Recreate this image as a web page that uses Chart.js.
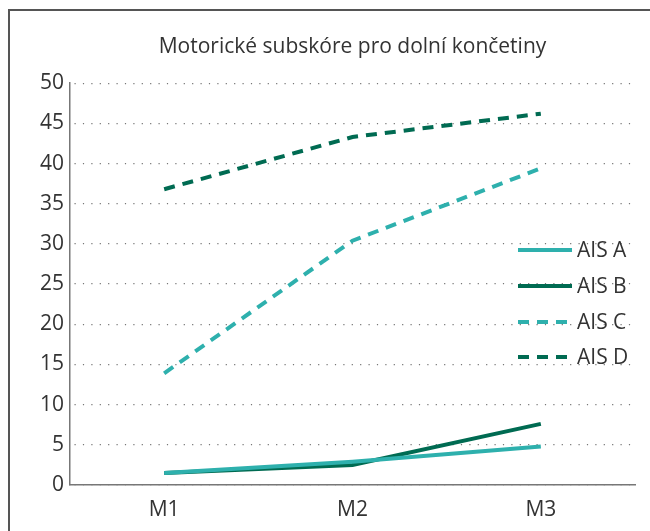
<!DOCTYPE html>
<html>
<head>
<meta charset="utf-8">
<script src="https://cdn.jsdelivr.net/npm/chart.js@4/dist/chart.umd.min.js"></script>
<style>
  html, body { margin: 0; padding: 0; background: #fff; }
  #wrap { position: relative; width: 650px; height: 531px; }
</style>
</head>
<body>
<div id="wrap"><canvas id="c" width="650" height="531"></canvas></div>
<script>
const categories = ['M1', 'M2', 'M3'];
const seriesNames = ['AIS A', 'AIS B', 'AIS C', 'AIS D'];
const aisA = [1.5, 2.9, 4.8];
const aisB = [1.5, 2.5, 7.6];
const aisC = [13.9, 30.4, 39.4];
const aisD = [36.8, 43.3, 46.2];
const yTicks = [0, 5, 10, 15, 20, 25, 30, 35, 40, 45, 50];
const chartTitle = 'Motorické subskóre pro dolní končetiny';

const TEAL = '#2EB0AD';
const GREEN = '#006B52';
const FONT = '"Open Sans", "Noto Sans", sans-serif';

// Outer frame (left and top edges) drawn behind everything
const framePlugin = {
  id: 'frame',
  beforeDraw(chart) {
    const ctx = chart.ctx;
    ctx.save();
    ctx.strokeStyle = '#555';
    ctx.lineWidth = 2;
    ctx.beginPath();
    ctx.moveTo(9, 531);
    ctx.lineTo(9, 10);
    ctx.lineTo(650, 10);
    ctx.stroke();
    ctx.restore();
  }
};

// Legend stacked inside the plot, using each dataset's own line style
const insideLegend = {
  id: 'insideLegend',
  afterDraw(chart) {
    const ctx = chart.ctx;
    const x0 = 518, x1 = 572, tx = 577;
    const rows = [250, 286, 322, 357];
    ctx.save();
    chart.data.datasets.forEach((ds, i) => {
      const y = rows[i];
      ctx.strokeStyle = ds.borderColor;
      ctx.lineWidth = ds.borderWidth;
      ctx.lineCap = 'butt';
      ctx.setLineDash(ds.borderDash || []);
      ctx.beginPath();
      ctx.moveTo(x0, y);
      ctx.lineTo(x1, y);
      ctx.stroke();
      ctx.setLineDash([]);
      ctx.fillStyle = '#333';
      ctx.font = '400 21px ' + FONT;
      ctx.textBaseline = 'middle';
      ctx.textAlign = 'left';
      ctx.fillText(ds.label, tx, y + 1);
    });
    ctx.restore();
  }
};

const makeSet = (label, data, color, dashed) => ({
  label, data,
  borderColor: color,
  backgroundColor: color,
  borderWidth: 4,
  borderDash: dashed ? [11, 8] : [],
  borderCapStyle: 'butt',
  borderJoinStyle: 'miter',
  pointRadius: 0,
  pointHoverRadius: 0,
  tension: 0,
  fill: false
});

new Chart(document.getElementById('c'), {
  type: 'line',
  data: {
    labels: categories,
    datasets: [
      makeSet(seriesNames[0], aisA, TEAL, false),
      makeSet(seriesNames[1], aisB, GREEN, false),
      makeSet(seriesNames[2], aisC, TEAL, true),
      makeSet(seriesNames[3], aisD, GREEN, true)
    ]
  },
  options: {
    responsive: false,
    animation: false,
    events: [],
    layout: { padding: { top: 35, left: 9, right: 15, bottom: 0 } },
    plugins: {
      legend: { display: false },
      tooltip: { enabled: false },
      title: {
        display: true,
        text: chartTitle,
        fullSize: false,
        color: '#333',
        font: { family: FONT, size: 21, weight: '400', lineHeight: 1.15 },
        padding: { top: 0, bottom: 24 }
      }
    },
    scales: {
      x: {
        type: 'category',
        offset: true,
        grid: { display: false, drawTicks: false },
        border: { display: true, color: '#777', width: 1.5 },
        ticks: {
          color: '#333',
          padding: 12,
          font: { family: FONT, size: 21, weight: '400' }
        },
        afterFit(scale) { scale.height = 46; }
      },
      y: {
        min: 0,
        max: 50,
        afterBuildTicks(scale) { scale.ticks = yTicks.map(v => ({ value: v })); },
        grid: {
          display: true,
          drawTicks: false,
          color: '#777',
          lineWidth: 1.2
        },
        border: { display: true, color: '#777', width: 1.5, dash: [1.2, 7.2], dashOffset: -4 },
        ticks: {
          color: '#333',
          padding: 6,
          font: { family: FONT, size: 21, weight: '400' }
        },
        afterFit(scale) { scale.width = 61; }
      }
    }
  },
  plugins: [framePlugin, insideLegend]
});
</script>
</body>
</html>
